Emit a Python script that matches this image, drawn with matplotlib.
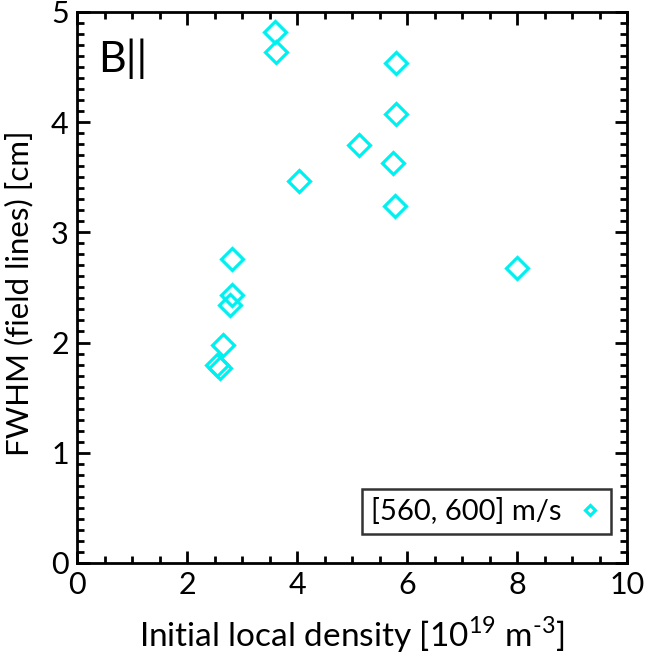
import matplotlib
matplotlib.use("Agg")
import matplotlib.pyplot as plt
from matplotlib.ticker import MultipleLocator

plt.rcParams['font.family'] = ['Lato', 'DejaVu Sans']
plt.rcParams['mathtext.fontset'] = 'custom'
plt.rcParams['mathtext.rm'] = 'Lato'

density = [3.60, 3.62, 5.80, 5.80, 5.13, 5.74, 5.78, 4.03, 8.00, 2.82, 2.82, 2.78, 2.66, 2.55, 2.59]
fwhm = [4.82, 4.64, 4.54, 4.07, 3.79, 3.63, 3.24, 3.47, 2.68, 2.76, 2.43, 2.34, 1.98, 1.80, 1.77]
series_label = "[560, 600] m/s"
panel_label = "B||"

fig = plt.figure(figsize=(6.48, 6.63), dpi=100)
ax = fig.add_axes([0.119, 0.151, 0.849, 0.831])

ax.plot(density, fwhm, linestyle='none', marker='D', markersize=11.5,
        markerfacecolor='none', markeredgecolor='#00F0F0', markeredgewidth=2.3,
        label=series_label)

ax.set_xlim(0, 10)
ax.set_ylim(0, 5)
ax.xaxis.set_major_locator(MultipleLocator(2))
ax.xaxis.set_minor_locator(MultipleLocator(0.5))
ax.yaxis.set_major_locator(MultipleLocator(1))
ax.yaxis.set_minor_locator(MultipleLocator(0.1))
ax.tick_params(which='both', direction='in', top=True, right=True, width=2, color='black')
ax.tick_params(which='major', length=9, labelsize=22, pad=6)
ax.tick_params(which='minor', length=5)
for s in ax.spines.values():
    s.set_linewidth(2)

ax.set_xlabel("Initial local density [10$^{19}$ m$^{\u20103}$]", fontsize=24, labelpad=11)
ax.set_ylabel("FWHM (field lines) [cm]", fontsize=22.5, labelpad=8)
ax.yaxis.set_label_coords(-0.08, 0.49)

ax.text(0.38, 4.76, panel_label, fontsize=31, va='top', ha='left')

leg = ax.legend(loc='lower right', markerfirst=False, fontsize=21, frameon=True,
                fancybox=False, handlelength=0.8, handletextpad=0.6,
                borderpad=0.3, markerscale=0.45, bbox_to_anchor=(0.97, 0.053),
                borderaxespad=0)
leg.get_frame().set_edgecolor('black')
leg.get_frame().set_linewidth(1.8)

fig.savefig("out.png", dpi=100)
